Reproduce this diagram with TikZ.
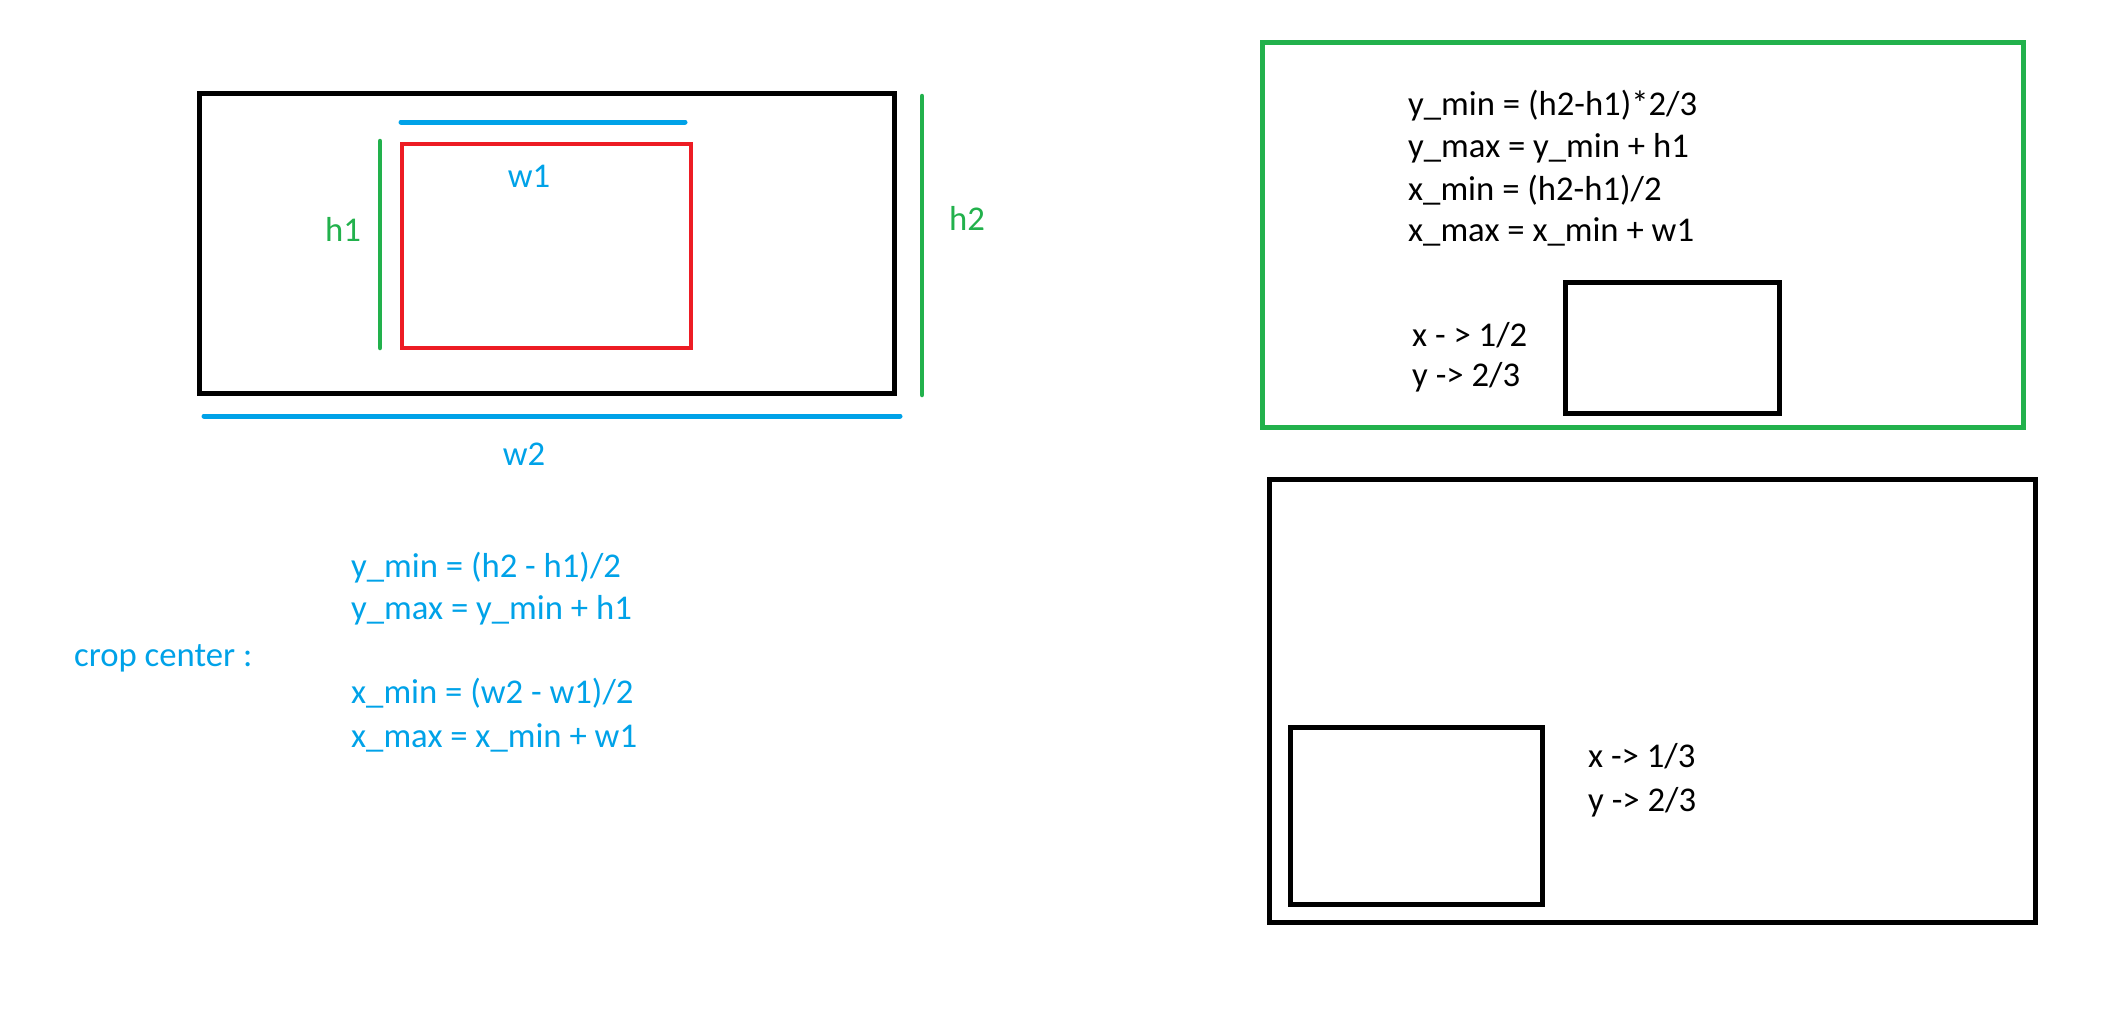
\documentclass[tikz,border=0pt]{standalone}
\usepackage{fontspec}
\setmainfont{Carlito}
\definecolor{pblue}{HTML}{00A2E8}
\definecolor{pgreen}{HTML}{22B14C}
\definecolor{pred}{HTML}{ED1C24}
\begin{document}
\begin{tikzpicture}[x=1pt,y=-1pt,
  blackbox/.style={draw=black,line width=5pt},
  greenbox/.style={draw=pgreen,line width=5pt},
  redbox/.style={draw=pred,line width=4.5pt},
  bluerule/.style={draw=pblue,line width=5pt,line cap=round},
  greenrule/.style={draw=pgreen,line width=4.5pt,line cap=round},
  txt/.style={font=\fontsize{34.7}{42}\selectfont,inner sep=0pt,anchor=mid west,yshift=-7pt},
  lbl/.style={font=\fontsize{34.7}{42}\selectfont,inner sep=0pt,anchor=mid,yshift=-7pt}]
\useasboundingbox (0,0) rectangle (2123,1009);
% left figure
\draw[blackbox] (199,93) rectangle (894,393);
\draw[redbox] (402,144) rectangle (691,348);
\draw[bluerule] (401,122) -- (685,122);
\draw[greenrule] (380,141) -- (380,348);
\draw[greenrule] (922,96) -- (922,395);
\draw[bluerule] (204,416) -- (900,416);
\node[lbl,text=pgreen] (h1) at (343,232) {h1};
\node[lbl,text=pblue] (w1) at (529,178) {w1};
\node[lbl,text=pgreen] (h2) at (967,221) {h2};
\node[lbl,text=pblue] (w2) at (524,456) {w2};
% blue formulas
\node[txt,text=pblue] (c0) at (74,657) {crop center :};
\node[txt,text=pblue] (c1) at (351,568) {y\_min = (h2 - h1)/2};
\node[txt,text=pblue] (c2) at (351,610) {y\_max = y\_min + h1};
\node[txt,text=pblue] (c3) at (351,694) {x\_min = (w2 - w1)/2};
\node[txt,text=pblue] (c4) at (351,738) {x\_max = x\_min + w1};
% green box top right
\draw[greenbox] (1262,42) rectangle (2023,427);
\node[txt] (g1) at (1408,106) {y\_min = (h2-h1)*2/3};
\node[txt] (g2) at (1408,148) {y\_max = y\_min + h1};
\node[txt] (g3) at (1408,191) {x\_min = (h2-h1)/2};
\node[txt] (g4) at (1408,232) {x\_max = x\_min + w1};
\draw[blackbox] (1565,282) rectangle (1779,413);
\node[txt] (g5) at (1412,337) {x - > 1/2};
\node[txt] (g6) at (1412,377) {y -> 2/3};
% bottom right
\draw[blackbox] (1269,479) rectangle (2035,922);
\draw[blackbox] (1290,727) rectangle (1542,904);
\node[txt] (b1) at (1588,758) {x -> 1/3};
\node[txt] (b2) at (1588,802) {y -> 2/3};
\end{tikzpicture}
\end{document}
